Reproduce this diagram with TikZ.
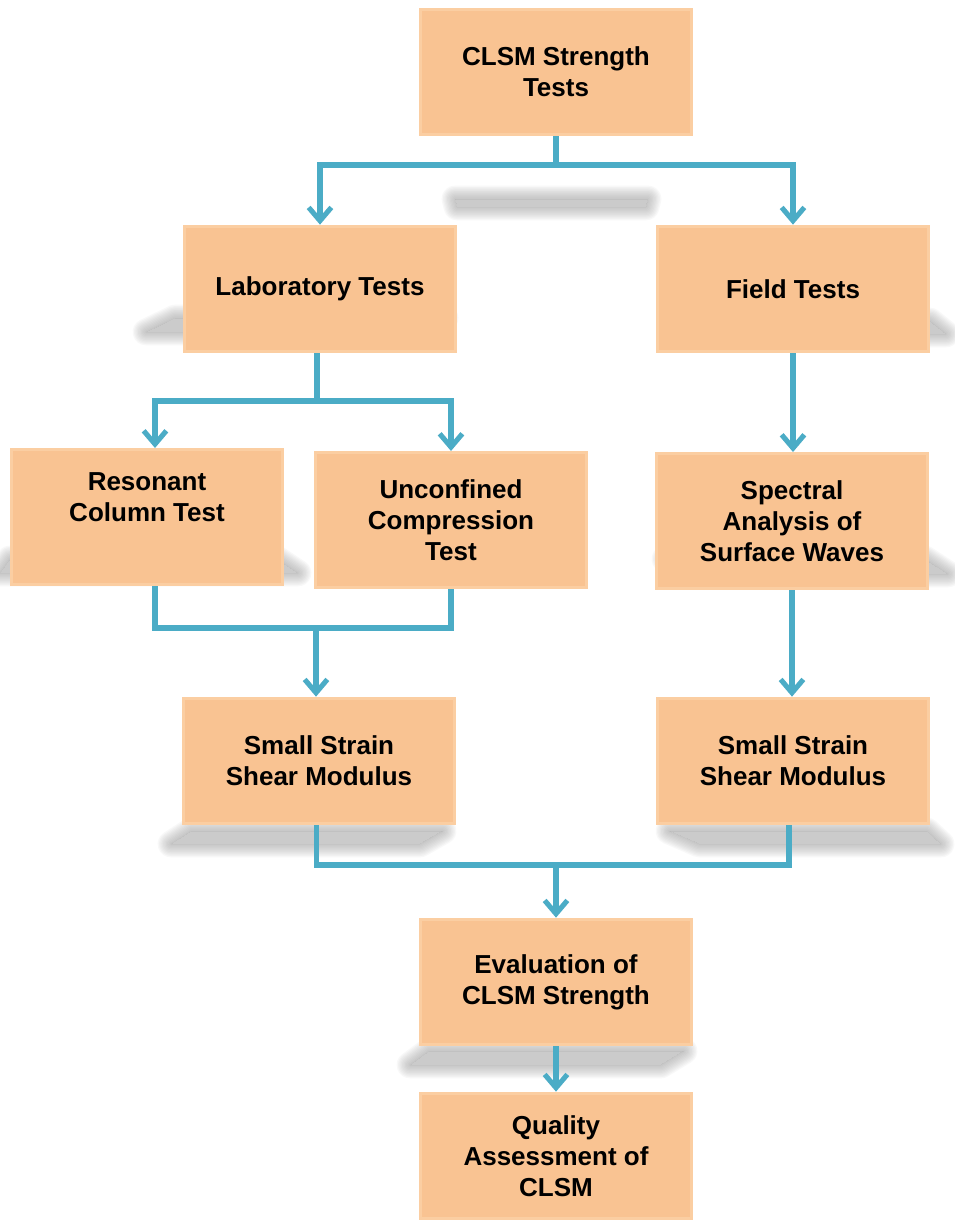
\documentclass[tikz,border=0pt]{standalone}
\usepackage{fontspec}
\setmainfont{Liberation Sans}
\usetikzlibrary{arrows.meta,calc}
\definecolor{boxfill}{RGB}{249,195,146}
\definecolor{boxedge}{RGB}{251,206,162}
\definecolor{linecol}{RGB}{75,172,198}
\tikzset{
  box/.style={rectangle, fill=boxfill, draw=boxedge, line width=2.5pt,
    minimum width=203pt, minimum height=94pt, align=center, inner sep=2pt,
    font=\fontsize{19.5}{23.2}\selectfont\bfseries},
  tallbox/.style={box, minimum height=101pt},
  conn/.style={draw=linecol, line width=3.8pt, line join=miter},
  arr/.style={conn, -{Straight Barb[length=10pt,width=17pt]}},
  shd/.style={line join=round},
}
\newcommand\softpoly[1]{%
  \path[shd, fill=black!40, fill opacity=0.5] #1;
  \begin{scope}[even odd rule]
  \clip (-200,-200) rectangle (1200,1400) #1;
  \foreach \w in {2,4,...,20}{%
    \path[shd, draw=black!40, line width=\w pt, draw opacity=0.066] #1;}
  \end{scope}}
\begin{document}
\begin{tikzpicture}[x=0.75pt,y=-0.75pt]
\useasboundingbox (0,0) rectangle (955,1224);
\fill[white] (0,0) rectangle (955,1224);
% shadows
\softpoly{(455,199)--(648,199)--(646,207)--(457,207)--cycle}
\softpoly{(175,318)--(445,318)--(428,332)--(146,332)--cycle}
\softpoly{(670,321)--(930,321)--(946,334)--(695,334)--cycle}
\softpoly{(10,559)--(277,559)--(298,573)--(0,573)--cycle}
\softpoly{(665,559)--(925,559)--(948,574)--(695,574)--cycle}
\softpoly{(191,831)--(443,831)--(420,844)--(171,844)--cycle}
\softpoly{(669,831)--(927,831)--(941,844)--(699,844)--cycle}
\softpoly{(429,1051)--(684,1051)--(661,1065)--(410,1065)--cycle}
% boxes
\node[box] (top) at (556,72) {CLSM Strength\\Tests};
\node[box] (lab) at (320,289) {Laboratory Tests};
\node[box] (field) at (793,289) {Field Tests};
\node[tallbox] (res) at (147,517) {Resonant\\Column Test\\\strut};
\node[tallbox] (unc) at (451,520) {Unconfined\\Compression\\Test};
\node[tallbox] (spec) at (792,521) {Spectral\\Analysis of\\Surface Waves};
\node[box] (smallL) at (319,761) {Small Strain\\Shear Modulus};
\node[box] (smallR) at (793,761) {Small Strain\\Shear Modulus};
\node[box] (eval) at (556,982) {Evaluation of\\CLSM Strength};
\node[box] (qual) at (556,1156) {Quality\\Assessment of\\CLSM};
% junctions
\coordinate (j1) at (556,165);
\coordinate (j2) at (317,401);
\coordinate (j3) at (316,628);
\coordinate (j4) at (556,865);
% connectors
\draw[conn] (top.south) -- (j1);
\draw[arr] (j1) -| (lab.north);
\draw[arr] (j1) -| (field.north);
\draw[conn] (lab.south -| j2) -- (j2);
\draw[arr] (j2) -| ([xshift=6pt]res.north);
\draw[arr] (j2) -| (unc.north);
\draw[arr] (field.south) -- (field.south |- spec.north);
\draw[conn] ([xshift=6pt]res.south) |- (j3) -| (unc.south);
\draw[arr] (j3) -- (j3 |- smallL.north);
\draw[arr] (spec.south) -- (spec.south |- smallR.north);
\draw[conn] ([xshift=-2pt]smallL.south) |- (j4) -| ([xshift=-3pt]smallR.south);
\draw[arr] (j4) -- (j4 |- eval.north);
\draw[arr] (eval.south) -- (qual.north);
\end{tikzpicture}
\end{document}
